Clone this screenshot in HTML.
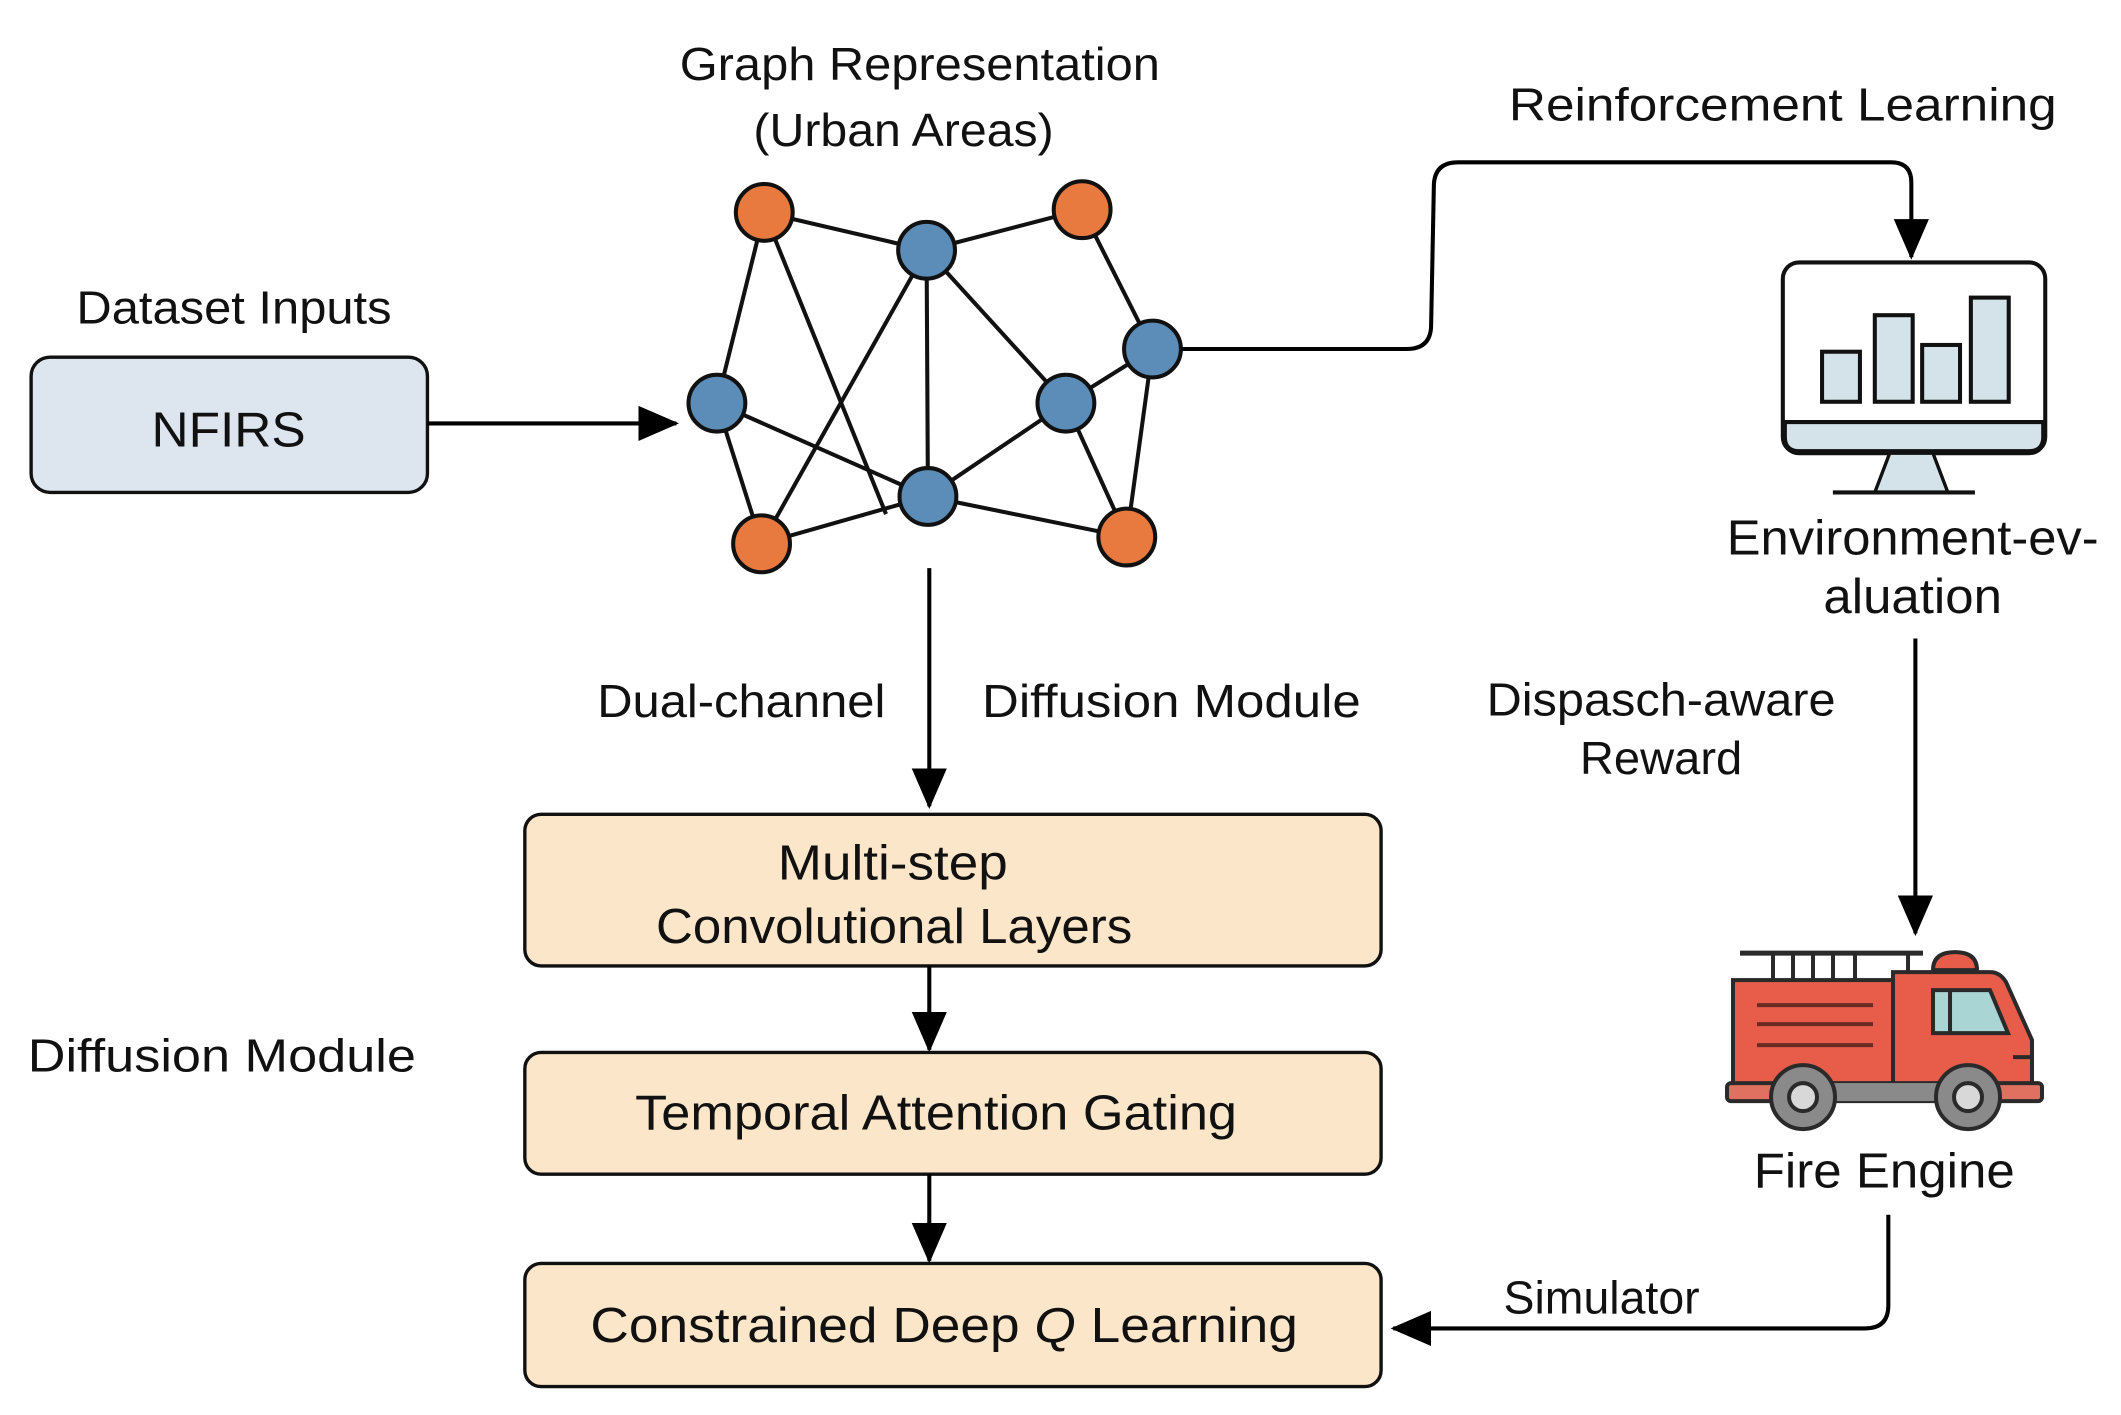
<!DOCTYPE html>
<html><head><meta charset="utf-8"><style>
html,body{margin:0;padding:0;background:#fff;}
svg{display:block;}
text{font-family:"Liberation Sans",sans-serif;fill:#111;}
</style></head><body>
<svg width="2121" height="1415" viewBox="0 0 1568 1046" preserveAspectRatio="none" xmlns="http://www.w3.org/2000/svg">
<defs>
<marker id="ab" markerWidth="30" markerHeight="26" refX="28" refY="13" orient="auto" markerUnits="userSpaceOnUse">
<path d="M0,0 L30,13 L0,26 z" fill="#000"/>
</marker>
</defs>
<g font-size="34" text-anchor="middle" lengthAdjust="spacingAndGlyphs">
<text x="680" y="59" textLength="355" lengthAdjust="spacingAndGlyphs">Graph Representation</text>
<text x="668" y="108" textLength="222" lengthAdjust="spacingAndGlyphs">(Urban Areas)</text>
<text x="1318" y="89" textLength="405" lengthAdjust="spacingAndGlyphs">Reinforcement Learning</text>
<text x="173" y="239" textLength="233" lengthAdjust="spacingAndGlyphs">Dataset Inputs</text>
<text x="548" y="530" textLength="213" lengthAdjust="spacingAndGlyphs">Dual-channel</text>
<text x="866" y="530" textLength="280" lengthAdjust="spacingAndGlyphs">Diffusion Module</text>
<text x="164" y="792" textLength="287" lengthAdjust="spacingAndGlyphs">Diffusion Module</text>
<text x="1228" y="529" textLength="258" lengthAdjust="spacingAndGlyphs">Dispasch-aware</text>
<text x="1228" y="572" textLength="120" lengthAdjust="spacingAndGlyphs">Reward</text>
<text x="1184" y="971" textLength="145" lengthAdjust="spacingAndGlyphs">Simulator</text>
<text x="1414" y="410" font-size="36" textLength="275" lengthAdjust="spacingAndGlyphs">Environment-ev-</text>
<text x="1414" y="453" font-size="36" textLength="132" lengthAdjust="spacingAndGlyphs">aluation</text>
<text x="1393" y="878" font-size="36" textLength="193" lengthAdjust="spacingAndGlyphs">Fire Engine</text>
</g>
<rect x="23" y="264" width="293" height="100" rx="14" fill="#dde5ee" stroke="#111" stroke-width="2.5"/>
<text x="169" y="330" font-size="36" text-anchor="middle" textLength="114" lengthAdjust="spacingAndGlyphs">NFIRS</text>
<line x1="316" y1="313" x2="500" y2="313" stroke="#000" stroke-width="3" marker-end="url(#ab)"/>
<g stroke="#111" stroke-width="3">
<line x1="565" y1="157" x2="685" y2="185"/>
<line x1="685" y1="185" x2="800" y2="155"/>
<line x1="565" y1="157" x2="530" y2="298"/>
<line x1="565" y1="157" x2="655" y2="380"/>
<line x1="685" y1="185" x2="563" y2="402"/>
<line x1="685" y1="185" x2="686" y2="367"/>
<line x1="685" y1="185" x2="788" y2="298"/>
<line x1="800" y1="155" x2="852" y2="258"/>
<line x1="852" y1="258" x2="788" y2="298"/>
<line x1="852" y1="258" x2="833" y2="397"/>
<line x1="530" y1="298" x2="686" y2="367"/>
<line x1="530" y1="298" x2="563" y2="402"/>
<line x1="563" y1="402" x2="686" y2="367"/>
<line x1="686" y1="367" x2="788" y2="298"/>
<line x1="788" y1="298" x2="833" y2="397"/>
<line x1="686" y1="367" x2="833" y2="397"/>
</g>
<g stroke="#111" stroke-width="3">
<circle cx="565" cy="157" r="21" fill="#e8793f"/>
<circle cx="800" cy="155" r="21" fill="#e8793f"/>
<circle cx="563" cy="402" r="21" fill="#e8793f"/>
<circle cx="833" cy="397" r="21" fill="#e8793f"/>
<circle cx="685" cy="185" r="21" fill="#5b8db8"/>
<circle cx="530" cy="298" r="21" fill="#5b8db8"/>
<circle cx="788" cy="298" r="21" fill="#5b8db8"/>
<circle cx="852" cy="258" r="21" fill="#5b8db8"/>
<circle cx="686" cy="367" r="21" fill="#5b8db8"/>
</g>
<path d="M873,258 L1040,258 Q1058,258 1058,240 L1060,138 Q1060,120 1078,120 L1398,120 Q1413,120 1413,135 L1413,190" fill="none" stroke="#000" stroke-width="3" marker-end="url(#ab)"/>
<rect x="1318" y="194" width="194" height="141" rx="12" fill="#fff" stroke="#111" stroke-width="3"/>
<path d="M1319.5,312 L1510.5,312 L1510.5,323 Q1510.5,333.5 1500,333.5 L1330,333.5 Q1319.5,333.5 1319.5,323 Z" fill="#d4e3ea" stroke="#111" stroke-width="3"/>
<path d="M1397,335 L1429,335 L1440,364 L1386,364 Z" fill="#d4e3ea" stroke="#111" stroke-width="2.5"/>
<line x1="1355" y1="364" x2="1460" y2="364" stroke="#111" stroke-width="3"/>
<g fill="#d4e3ea" stroke="#111" stroke-width="3">
<rect x="1347" y="260" width="28" height="37"/>
<rect x="1386" y="233" width="28" height="64"/>
<rect x="1421" y="255" width="28" height="42"/>
<rect x="1457" y="220" width="28" height="77"/>
</g>
<line x1="1416" y1="472" x2="1416" y2="690" stroke="#000" stroke-width="3" marker-end="url(#ab)"/>
<g transform="scale(0.73928)" stroke="#2a2a2a" stroke-width="4">
<line x1="1740" y1="953" x2="1923" y2="953" stroke-width="5"/>
<g stroke-width="4"><line x1="1773" y1="953" x2="1773" y2="980"/><line x1="1793" y1="953" x2="1793" y2="980"/><line x1="1813" y1="953" x2="1813" y2="980"/><line x1="1833" y1="953" x2="1833" y2="980"/><line x1="1855" y1="953" x2="1855" y2="980"/><line x1="1908" y1="953" x2="1908" y2="980"/></g>
<path d="M1933,970 Q1933,952 1955,952 Q1977,952 1977,970 Z" fill="#e85c4a"/>
<rect x="1733" y="980" width="162" height="105" fill="#e85c4a"/>
<path d="M1893,972 L1990,972 Q2000,972 2006,982 L2032,1040 L2032,1085 L1893,1085 Z" fill="#e85c4a"/>
<path d="M1933,990 L1990,990 L2008,1033 L1933,1033 Z" fill="#a9d6d4"/>
<line x1="1950" y1="990" x2="1950" y2="1033"/>
<line x1="1757" y1="1005" x2="1873" y2="1005" stroke="#6a2a22"/>
<line x1="1757" y1="1024" x2="1873" y2="1024" stroke="#6a2a22"/>
<line x1="1757" y1="1045" x2="1873" y2="1045" stroke="#6a2a22"/>
<line x1="2013" y1="1057" x2="2032" y2="1057"/>
<rect x="1727" y="1083" width="315" height="18" rx="4" fill="#e07060"/>
<rect x="1790" y="1083" width="180" height="18" fill="#8a8a8a" stroke="none"/>
<circle cx="1803" cy="1097" r="32" fill="#8a8a8a"/>
<circle cx="1803" cy="1097" r="14" fill="#d8d8d8"/>
<circle cx="1968" cy="1097" r="32" fill="#8a8a8a"/>
<circle cx="1968" cy="1097" r="14" fill="#d8d8d8"/>
</g>
<path d="M1396,898 L1396,965 Q1396,982 1379,982 L1030,982" fill="none" stroke="#000" stroke-width="3" marker-end="url(#ab)"/>
<line x1="687" y1="420" x2="687" y2="596" stroke="#000" stroke-width="3" marker-end="url(#ab)"/>
<g fill="#fbe6c9" stroke="#111" stroke-width="2.5">
<rect x="388" y="602" width="633" height="112" rx="12"/>
<rect x="388" y="778" width="633" height="90" rx="12"/>
<rect x="388" y="934" width="633" height="91" rx="12"/>
</g>
<line x1="687" y1="714" x2="687" y2="776" stroke="#000" stroke-width="3" marker-end="url(#ab)"/>
<line x1="687" y1="868" x2="687" y2="932" stroke="#000" stroke-width="3" marker-end="url(#ab)"/>
<g font-size="36" text-anchor="middle">
<text x="660" y="650" textLength="170" lengthAdjust="spacingAndGlyphs">Multi-step</text>
<text x="661" y="697" textLength="352" lengthAdjust="spacingAndGlyphs">Convolutional Layers</text>
<text x="692" y="835" textLength="445" lengthAdjust="spacingAndGlyphs">Temporal Attention Gating</text>
<text x="698" y="992" textLength="523" lengthAdjust="spacingAndGlyphs" font-family="Liberation Serif, serif">Constrained Deep <tspan font-style="italic">Q</tspan> Learning</text>
</g>
</svg>
</body></html>
